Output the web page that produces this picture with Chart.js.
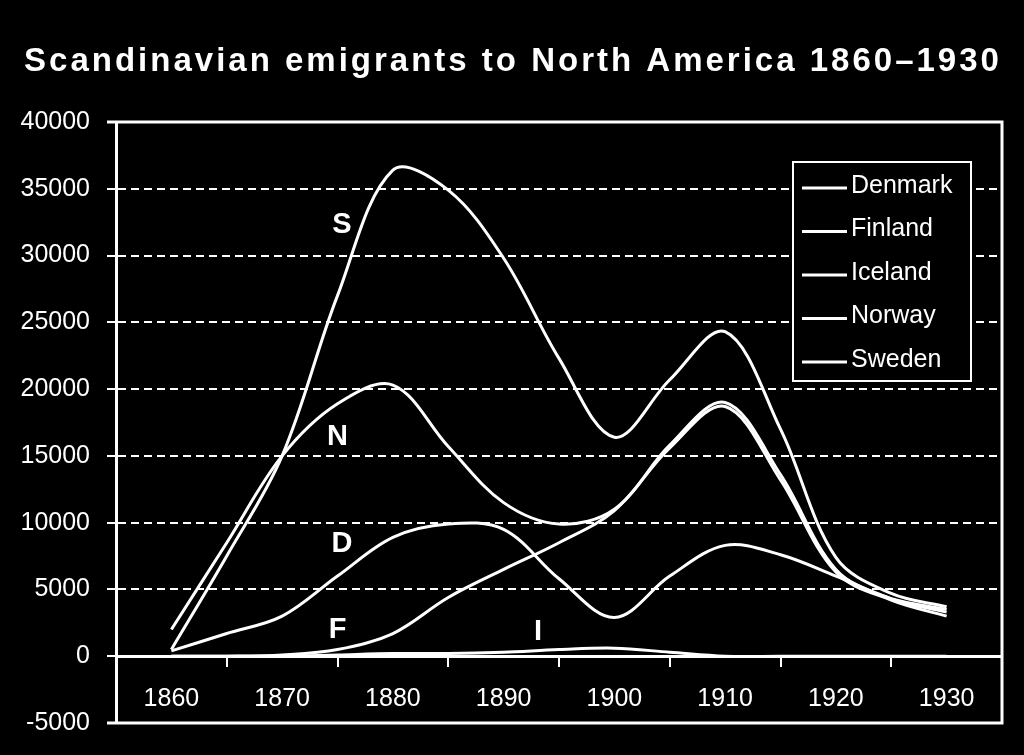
<!DOCTYPE html>
<html>
<head>
<meta charset="utf-8">
<script src="https://cdn.jsdelivr.net/npm/chart.js@4.4.1/dist/chart.umd.min.js"></script>
<style>
    html, body { margin: 0; padding: 0; background: #000; }
    #wrap { width: 1024px; height: 755px; }
</style>
</head>
<body>
<div id="wrap"><canvas id="emigrants" width="1024" height="755"></canvas></div>
<script>
// Data, every 5 years
const years = [1860, 1865, 1870, 1875, 1880, 1885, 1890, 1895, 1900, 1905, 1910, 1915, 1920, 1925, 1930];
const tickYears = [1860, 1870, 1880, 1890, 1900, 1910, 1920, 1930];

const denmark = [400, 1700, 3000, 6000, 8900, 9900, 9500, 5800, 2900, 6000, 8300, 7600, 6000, 4300, 3500];
const finland = [0, 0, 100, 500, 1700, 4400, 6500, 8500, 10900, 15600, 18700, 13200, 6300, 4200, 3000];
const iceland = [0, 0, 0, 100, 200, 200, 300, 500, 600, 300, 0, 0, 0, 0, 0];
const norway  = [2000, 8500, 15000, 18900, 20300, 15700, 11500, 9900, 11000, 15800, 19000, 13600, 6500, 4300, 3300];
const sweden  = [500, 7500, 15000, 27000, 36400, 34900, 29800, 22300, 16400, 20700, 24300, 17000, 7400, 4700, 3700];

const seriesNames = ['Denmark', 'Finland', 'Iceland', 'Norway', 'Sweden'];

// Letters written next to the curves (year, value)
const markLabels = ['S', 'N', 'D', 'F', 'I'];
const markYears  = [1875.4, 1875.0, 1875.4, 1875.0, 1893.1];
const markValues = [32300, 16400, 8400, 2000, 1800];

const FONT = "'Liberation Sans', Arial, sans-serif";

function toPoints(values) {
    return years.map((yr, i) => ({ x: yr, y: values[i] }));
}

// Title, frame, curve letters and boxed legend
const decorPlugin = {
    id: 'decor',
    afterDatasetsDraw(chart) {
        const ctx = chart.ctx;
        const xs = chart.scales.x;
        const ys = chart.scales.y;
        ctx.save();
        ctx.fillStyle = '#fff';
        ctx.font = 'bold 29px ' + FONT;
        ctx.textAlign = 'center';
        ctx.textBaseline = 'middle';
        markLabels.forEach((txt, i) => {
            ctx.fillText(txt, xs.getPixelForValue(markYears[i]), ys.getPixelForValue(markValues[i]));
        });
        ctx.restore();
    },
    afterDraw(chart) {
        const ctx = chart.ctx;
        const area = chart.chartArea;
        ctx.save();

        // plot frame
        ctx.strokeStyle = '#fff';
        ctx.lineWidth = 3;
        ctx.beginPath();
        ctx.moveTo(area.left - 9, area.top);
        ctx.lineTo(area.right, area.top);
        ctx.lineTo(area.right, area.bottom);
        ctx.lineTo(area.left - 9, area.bottom);
        ctx.stroke();

        // title
        ctx.fillStyle = '#fff';
        ctx.font = 'bold 33px ' + FONT;
        ctx.letterSpacing = '3px';
        ctx.textAlign = 'center';
        ctx.textBaseline = 'alphabetic';
        ctx.fillText('Scandinavian emigrants to North America 1860\u20131930', 513, 71);
        ctx.letterSpacing = '0px';

        // legend box
        const bx = 793, by = 162, bw = 178, bh = 219;
        ctx.fillStyle = '#000';
        ctx.fillRect(bx, by, bw, bh);
        ctx.lineWidth = 2;
        ctx.strokeRect(bx, by, bw, bh);
        ctx.font = '25px ' + FONT;
        ctx.textAlign = 'left';
        ctx.textBaseline = 'middle';
        chart.data.datasets.forEach((ds, i) => {
            const y = 186 + i * 43.5;
            ctx.lineWidth = 3;
            ctx.beginPath();
            ctx.moveTo(802, y + 2);
            ctx.lineTo(847, y + 2);
            ctx.stroke();
            ctx.fillStyle = '#fff';
            ctx.fillText(ds.label, 851, y);
        });
        ctx.restore();
    }
};

const allSeries = [denmark, finland, iceland, norway, sweden];

new Chart(document.getElementById('emigrants'), {
    type: 'line',
    data: {
        datasets: allSeries.map((vals, i) => ({
            label: seriesNames[i],
            data: toPoints(vals),
            borderColor: '#fff',
            borderWidth: 3,
            pointRadius: 0,
            tension: 0.35,
            fill: false
        }))
    },
    options: {
        responsive: false,
        animation: false,
        layout: { padding: { top: 122, right: 22, bottom: 31, left: 0 } },
        plugins: {
            legend: { display: false },
            title: { display: false },
            tooltip: { enabled: false }
        },
        scales: {
            x: {
                type: 'linear',
                position: { y: 0 },
                min: 1855,
                max: 1935,
                grid: {
                    drawOnChartArea: false,
                    drawTicks: true,
                    tickLength: 9,
                    lineWidth: 2,
                    color: (c) => (c.tick && c.tick.value % 10 === 5 && c.tick.value > 1855 && c.tick.value < 1935) ? '#fff' : 'rgba(0,0,0,0)'
                },
                border: { display: true, color: '#fff', width: 3 },
                ticks: {
                    stepSize: 5,
                    autoSkip: false,
                    maxRotation: 0,
                    padding: 19,
                    color: '#fff',
                    font: { family: FONT, size: 25 },
                    callback: (v) => tickYears.includes(v) ? String(v) : ''
                }
            },
            y: {
                min: -5000,
                max: 40000,
                afterFit: (s) => { s.width = 116; },
                grid: {
                    color: '#fff',
                    lineWidth: 2,
                    tickLength: 9,
                    tickBorderDash: []
                },
                border: { display: true, color: '#fff', width: 3, dash: [8, 5] },
                ticks: {
                    stepSize: 5000,
                    padding: 17,
                    color: '#fff',
                    font: { family: FONT, size: 25 },
                    callback: (v) => String(v)
                }
            }
        }
    },
    plugins: [decorPlugin]
});
</script>
</body>
</html>
